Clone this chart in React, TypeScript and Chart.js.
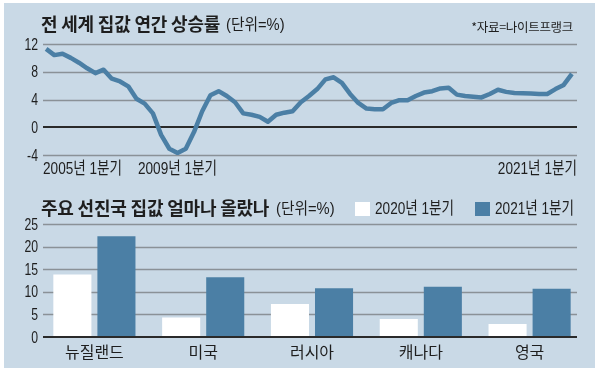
import React, { useEffect, useRef } from "react";
import { Chart, registerables } from "chart.js";

Chart.register(...registerables);

// ---------- DATA ----------
const quarters: string[] = [];
for (let y = 2005; y <= 2021; y++) {
  for (let q = 1; q <= 4; q++) {
    if (y === 2021 && q > 1) break;
    quarters.push(`${y}년 ${q}분기`);
  }
}
const shownQuarterTicks = ["2005년 1분기", "2009년 1분기", "2021년 1분기"];

// 전 세계 집값 연간 상승률 (%), 2005Q1 ~ 2021Q1
const globalPriceGrowth = [
  11.3, 10.4, 10.6, 10.0, 9.3, 8.5, 7.8, 8.3, 7.0, 6.6,
  5.9, 4.1, 3.4, 2.0, -1.1, -3.1, -3.7, -3.1, -0.7, 2.3,
  4.6, 5.2, 4.5, 3.6, 2.0, 1.8, 1.5, 0.8, 1.8, 2.1,
  2.3, 3.6, 4.5, 5.5, 6.9, 7.2, 6.4, 4.8, 3.5, 2.7,
  2.6, 2.6, 3.5, 3.9, 3.9, 4.5, 5.0, 5.2, 5.6, 5.7,
  4.7, 4.5, 4.4, 4.3, 4.8, 5.4, 5.1, 4.95, 4.9, 4.85,
  4.8, 4.8, 5.5, 6.1, 7.7,
];
const lineYTicks = [-4, 0, 4, 8, 12];

const countries = ["뉴질랜드", "미국", "러시아", "캐나다", "영국"];
const seriesNames = ["2020년 1분기", "2021년 1분기"];
const growth2020Q1 = [13.8, 4.3, 7.3, 4.0, 2.9];
const growth2021Q1 = [22.3, 13.2, 10.8, 11.1, 10.7];
const barYTicks = [0, 5, 10, 15, 20, 25];

// ---------- STYLE ----------
const PANEL_BG = "#c9d9e6";
const BLUE = "#4b7fa5";
const GRID = "#8a9197";
const AXIS = "#2a2a2a";
const TEXT = "#1e1e1e";
const NUM_FONT = "'Liberation Sans', 'Noto Sans CJK KR', sans-serif";
const KR_FONT = "'Noto Sans CJK KR', 'Noto Sans', sans-serif";

function drawText(
  ctx: CanvasRenderingContext2D,
  text: string,
  x: number,
  y: number,
  font: string,
  align: CanvasTextAlign,
  baseline: CanvasTextBaseline,
  sx: number
) {
  ctx.save();
  ctx.font = font;
  ctx.fillStyle = TEXT;
  ctx.textAlign = align;
  ctx.textBaseline = baseline;
  ctx.translate(x, y);
  ctx.scale(sx, 1);
  ctx.fillText(text, 0, 0);
  ctx.restore();
}

function hLine(ctx: CanvasRenderingContext2D, x1: number, x2: number, y: number, color: string, w: number) {
  ctx.save();
  ctx.strokeStyle = color;
  ctx.lineWidth = w;
  ctx.beginPath();
  ctx.moveTo(x1, y);
  ctx.lineTo(x2, y);
  ctx.stroke();
  ctx.restore();
}

const lineAxesPlugin = {
  id: "lineAxes",
  beforeDatasetsDraw(chart: any) {
    const { ctx, chartArea, scales } = chart;
    lineYTicks.forEach((v) => {
      const py = Math.round(scales.y.getPixelForValue(v)) + (v === 0 ? 0 : 0.5);
      hLine(ctx, chartArea.left + 1, chartArea.right + 1, py, v === 0 ? AXIS : GRID, v === 0 ? 2 : 1.5);
    });
  },
  afterDraw(chart: any) {
    const { ctx, chartArea, scales } = chart;
    lineYTicks.forEach((v) => {
      drawText(ctx, String(v), chartArea.left - 4, scales.y.getPixelForValue(v) + 1, `17px ${NUM_FONT}`, "right", "middle", 0.72);
    });
    const last = quarters.length - 1;
    shownQuarterTicks.forEach((label) => {
      const i = quarters.indexOf(label);
      const px = scales.x.getPixelForValue(i);
      const align: CanvasTextAlign = i === 0 ? "left" : i === last ? "right" : "center";
      const ax = i === 0 ? chartArea.left + 1 : i === last ? chartArea.right + 1 : px;
      drawText(ctx, label, ax, chartArea.bottom + 14, `17px ${NUM_FONT}`, align, "middle", 0.8);
    });
  },
};

const barAxesPlugin = {
  id: "barAxes",
  beforeDatasetsDraw(chart: any) {
    const { ctx, chartArea, scales } = chart;
    barYTicks.forEach((v) => {
      if (v === 0) return;
      const py = Math.round(scales.y.getPixelForValue(v)) + 0.5;
      hLine(ctx, chartArea.left + 3, chartArea.right - 7, py, GRID, 1.5);
    });
  },
  afterDraw(chart: any) {
    const { ctx, chartArea, scales } = chart;
    hLine(ctx, chartArea.left + 3, chartArea.right - 7, scales.y.getPixelForValue(0), AXIS, 2);
    barYTicks.forEach((v) => {
      drawText(ctx, String(v), chartArea.left - 2, scales.y.getPixelForValue(v) + 1, `17px ${NUM_FONT}`, "right", "middle", 0.72);
    });
    countries.forEach((c, i) => {
      drawText(ctx, c, scales.x.getPixelForValue(i), chartArea.bottom + 15, `16px ${KR_FONT}`, "center", "middle", 1);
    });
  },
};

export default function App() {
  const lineRef = useRef<HTMLCanvasElement>(null);
  const barRef = useRef<HTMLCanvasElement>(null);

  useEffect(() => {
    const lineChart = new Chart(lineRef.current!, {
      type: "line",
      data: {
        labels: quarters,
        datasets: [
          {
            data: globalPriceGrowth,
            borderColor: BLUE,
            borderWidth: 4.5,
            pointRadius: 0,
            tension: 0,
            borderJoinStyle: "round",
            borderCapStyle: "butt",
          },
        ],
      },
      options: {
        animation: false,
        responsive: false,
        maintainAspectRatio: false,
        layout: { padding: { left: 42, right: 24, top: 44, bottom: 35 } },
        plugins: { legend: { display: false }, tooltip: { enabled: false } },
        scales: {
          x: { display: false, offset: true },
          y: { display: false, min: -4, max: 12 },
        },
      } as any,
      plugins: [lineAxesPlugin],
    });

    const barChart = new Chart(barRef.current!, {
      type: "bar",
      data: {
        labels: countries,
        datasets: [
          { label: seriesNames[0], data: growth2020Q1, backgroundColor: "#ffffff", borderWidth: 0 },
          { label: seriesNames[1], data: growth2021Q1, backgroundColor: BLUE, borderWidth: 0 },
        ],
      },
      options: {
        animation: false,
        responsive: false,
        maintainAspectRatio: false,
        layout: { padding: { left: 40, right: 16, top: 34, bottom: 38 } },
        plugins: { legend: { display: false }, tooltip: { enabled: false } },
        datasets: { bar: { barPercentage: 0.864, categoryPercentage: 0.81 } },
        scales: {
          x: { display: false },
          y: { display: false, min: 0, max: 25 },
        },
      } as any,
      plugins: [barAxesPlugin],
    });

    return () => {
      lineChart.destroy();
      barChart.destroy();
    };
  }, []);

  const abs = (o: React.CSSProperties): React.CSSProperties => ({ position: "absolute", ...o });
  const condensed = (sx: number): React.CSSProperties => ({ transform: `scaleX(${sx})`, transformOrigin: "left center", display: "inline-block" });

  return (
    <div style={abs({ left: 0, top: 0, width: 600, height: 375, background: "#ffffff", overflow: "hidden" })}>
      <div style={abs({ left: 4, top: 3, width: 591, height: 365, background: PANEL_BG })} />
      <canvas ref={lineRef} width={600} height={190} style={abs({ left: 0, top: 0, width: 600, height: 190 })} />
      <canvas ref={barRef} width={600} height={185} style={abs({ left: 0, top: 190, width: 600, height: 185 })} />

      <div style={abs({ left: 41, top: 14, whiteSpace: "nowrap", color: TEXT, lineHeight: 1 })}>
        <span style={{ fontFamily: KR_FONT, fontWeight: 700, fontSize: 18, letterSpacing: -0.2 }}>전 세계 집값 연간 상승률</span>
      </div>
      <div style={abs({ left: 226, top: 17, whiteSpace: "nowrap", color: TEXT, lineHeight: 1, fontFamily: NUM_FONT, fontSize: 16 })}>
        <span style={condensed(0.92)}>(단위=%)</span>
      </div>
      <div style={abs({ right: 27, top: 21, whiteSpace: "nowrap", color: TEXT, lineHeight: 1, fontFamily: KR_FONT, fontSize: 12.5, letterSpacing: -0.3 })}>
        *자료=나이트프랭크
      </div>

      <div style={abs({ left: 41, top: 198, whiteSpace: "nowrap", color: TEXT, lineHeight: 1 })}>
        <span style={{ fontFamily: KR_FONT, fontWeight: 700, fontSize: 18, letterSpacing: -0.2 }}>주요 선진국 집값 얼마나 올랐나</span>
      </div>
      <div style={abs({ left: 276, top: 201, whiteSpace: "nowrap", color: TEXT, lineHeight: 1, fontFamily: NUM_FONT, fontSize: 16 })}>
        <span style={condensed(0.92)}>(단위=%)</span>
      </div>

      <div style={abs({ left: 355, top: 202, width: 15, height: 14, background: "#ffffff" })} />
      <div style={abs({ left: 375, top: 200, whiteSpace: "nowrap", color: TEXT, lineHeight: 1, fontFamily: NUM_FONT, fontSize: 17 })}>
        <span style={condensed(0.8)}>{seriesNames[0]}</span>
      </div>
      <div style={abs({ left: 475, top: 202, width: 15, height: 14, background: BLUE })} />
      <div style={abs({ left: 495, top: 200, whiteSpace: "nowrap", color: TEXT, lineHeight: 1, fontFamily: NUM_FONT, fontSize: 17 })}>
        <span style={condensed(0.8)}>{seriesNames[1]}</span>
      </div>
    </div>
  );
}
